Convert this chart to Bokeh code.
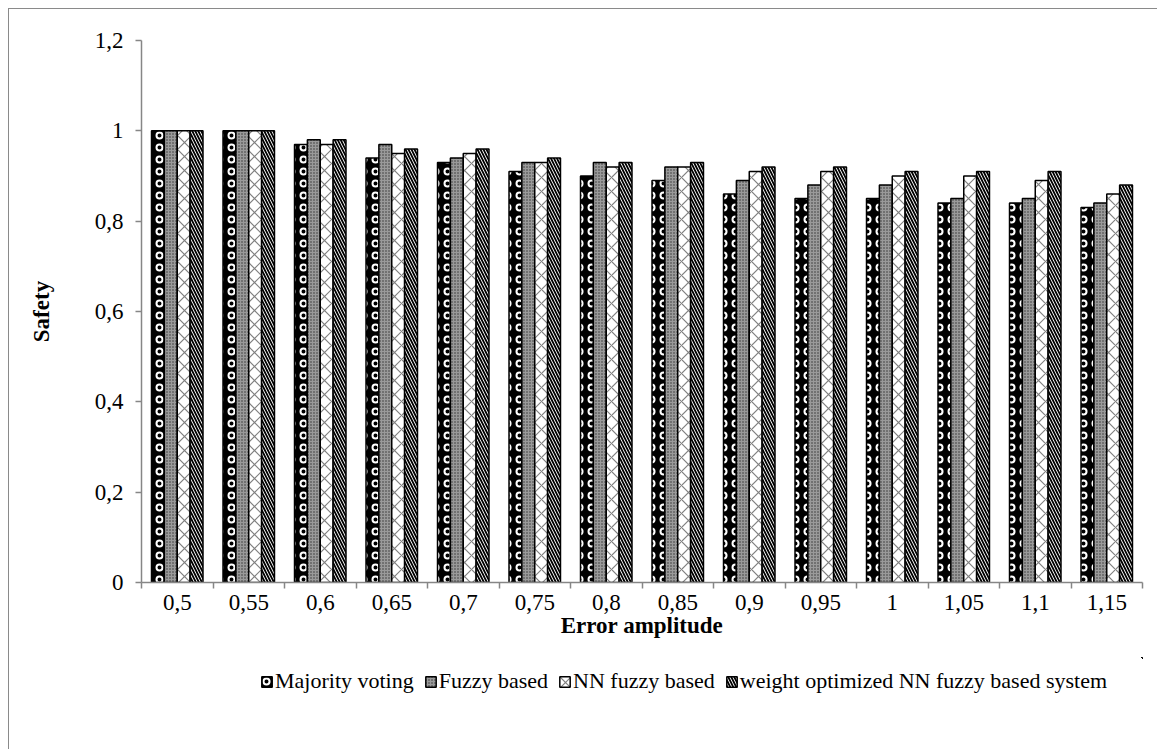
from bokeh.plotting import figure
from bokeh.models import ColumnDataSource, FixedTicker, Range1d, Legend, LegendItem, Spacer
from bokeh.layouts import column, row
from bokeh.embed import file_html
from bokeh.resources import INLINE

categories = ["0,5", "0,55", "0,6", "0,65", "0,7", "0,75", "0,8", "0,85", "0,9", "0,95", "1", "1,05", "1,1", "1,15"]
majority_voting = [1.00, 1.00, 0.97, 0.94, 0.93, 0.91, 0.90, 0.89, 0.86, 0.85, 0.85, 0.84, 0.84, 0.83]
fuzzy_based = [1.00, 1.00, 0.98, 0.97, 0.94, 0.93, 0.93, 0.92, 0.89, 0.88, 0.88, 0.85, 0.85, 0.84]
nn_fuzzy_based = [1.00, 1.00, 0.97, 0.95, 0.95, 0.93, 0.92, 0.92, 0.91, 0.91, 0.90, 0.90, 0.89, 0.86]
weight_optimized = [1.00, 1.00, 0.98, 0.96, 0.96, 0.94, 0.93, 0.93, 0.92, 0.92, 0.91, 0.91, 0.91, 0.88]
series_names = ["Majority voting", "Fuzzy based", "NN fuzzy based", "weight optimized NN fuzzy based system"]
y_ticks = [0, 0.2, 0.4, 0.6, 0.8, 1.0, 1.2]
y_tick_labels = ["0", "0,2", "0,4", "0,6", "0,8", "1", "1,2"]

SERIF = "Liberation Serif"
AXIS_GRAY = "#868686"

p = figure(width=1148, height=648, output_backend="svg", toolbar_location=None,
           x_range=Range1d(0, len(categories)), y_range=Range1d(0, 1.2),
           min_border_left=132, min_border_right=15, min_border_top=31, min_border_bottom=75)
p.outline_line_color = None
p.xgrid.visible = False
p.ygrid.visible = False

styles = [
    dict(fill_color="black", hatch_pattern="ring", hatch_color="white", hatch_scale=12, hatch_weight=2),
    dict(fill_color="#9a9a9a", hatch_pattern="dot", hatch_color="#333333", hatch_scale=3, hatch_weight=1),
    dict(fill_color="white", hatch_pattern="diagonal_cross", hatch_color="#808080", hatch_scale=14, hatch_weight=1.2),
    dict(fill_color="white", hatch_pattern="left_diagonal_line", hatch_color="black", hatch_scale=6, hatch_weight=1.8),
]
all_series = [majority_voting, fuzzy_based, nn_fuzzy_based, weight_optimized]
offsets = [-0.27, -0.09, 0.09, 0.27]
bar_w = 0.18

sources = []
for name, vals, off, st in zip(series_names, all_series, offsets, styles):
    src = ColumnDataSource(dict(x=[i + 0.5 + off for i in range(len(categories))], top=vals))
    sources.append(src)
    p.vbar(x="x", top="top", width=bar_w, bottom=0, source=src,
           line_color="black", line_width=1.5, **st)

# x axis
p.xaxis.ticker = FixedTicker(ticks=[i + 0.5 for i in range(len(categories))],
                             minor_ticks=list(range(len(categories) + 1)))
p.xaxis.major_label_overrides = {i + 0.5: c for i, c in enumerate(categories)}
p.xaxis.major_tick_line_color = None
p.xaxis.major_tick_out = 6
p.xaxis.major_tick_in = 0
p.xaxis.minor_tick_line_color = AXIS_GRAY
p.xaxis.minor_tick_out = 6
p.xaxis.minor_tick_in = 0
p.xaxis.minor_tick_line_width = 1.5
p.xaxis.axis_line_color = AXIS_GRAY
p.xaxis.axis_line_width = 1.5
p.xaxis.major_label_standoff = 6
p.xaxis.axis_label = "Error amplitude"
p.xaxis.axis_label_standoff = 0

# y axis
p.yaxis.ticker = FixedTicker(ticks=y_ticks)
p.yaxis.major_label_overrides = {t: l for t, l in zip(y_ticks, y_tick_labels)}
p.yaxis.minor_tick_line_color = None
p.yaxis.major_tick_line_color = AXIS_GRAY
p.yaxis.major_tick_line_width = 1.5
p.yaxis.major_tick_out = 6
p.yaxis.major_tick_in = 0
p.yaxis.axis_line_color = AXIS_GRAY
p.yaxis.axis_line_width = 1.5
p.yaxis.major_label_standoff = 12
p.yaxis.axis_label = "Safety"
p.yaxis.axis_label_standoff = 38

for ax in (p.xaxis, p.yaxis):
    ax.major_label_text_font = SERIF
    ax.major_label_text_font_size = "23px"
    ax.major_label_text_color = "black"
    ax.axis_label_text_font = SERIF
    ax.axis_label_text_font_size = "23px"
    ax.axis_label_text_font_style = "bold"
    ax.axis_label_text_color = "black"

# legend strip below the chart: same sources & styles, ranges kept away from the data
pl = figure(width=1148, height=92, output_backend="svg", toolbar_location=None,
            x_range=Range1d(-100, -99), y_range=Range1d(-100, -99),
            x_axis_location=None, y_axis_location=None,
            min_border=0, min_border_left=0, min_border_right=0, min_border_top=0, min_border_bottom=0)
pl.grid.visible = False
pl.outline_line_color = None
items = []
for name, src, st in zip(series_names, sources, styles):
    r = pl.vbar(x="x", top="top", width=bar_w, bottom=0, source=src,
                line_color="black", line_width=1.5, **st)
    items.append(LegendItem(label=name, renderers=[r]))
legend = Legend(items=items, orientation="horizontal", location=(119, 55),
                label_text_font=SERIF, label_text_font_size="22px", label_text_color="black",
                glyph_width=13, glyph_height=13, label_standoff=2, spacing=10,
                padding=4, margin=0, border_line_color=None, background_fill_alpha=0)
pl.add_layout(legend, "center")

inner = column(p, pl, spacing=0)
inner.styles = {"border-top": "1px solid #8a8a8a", "border-left": "1px solid #8a8a8a"}
layout = column(Spacer(height=8), row(Spacer(width=8), inner, spacing=0), spacing=0)

open("out.html", "w").write(file_html(layout, INLINE))
